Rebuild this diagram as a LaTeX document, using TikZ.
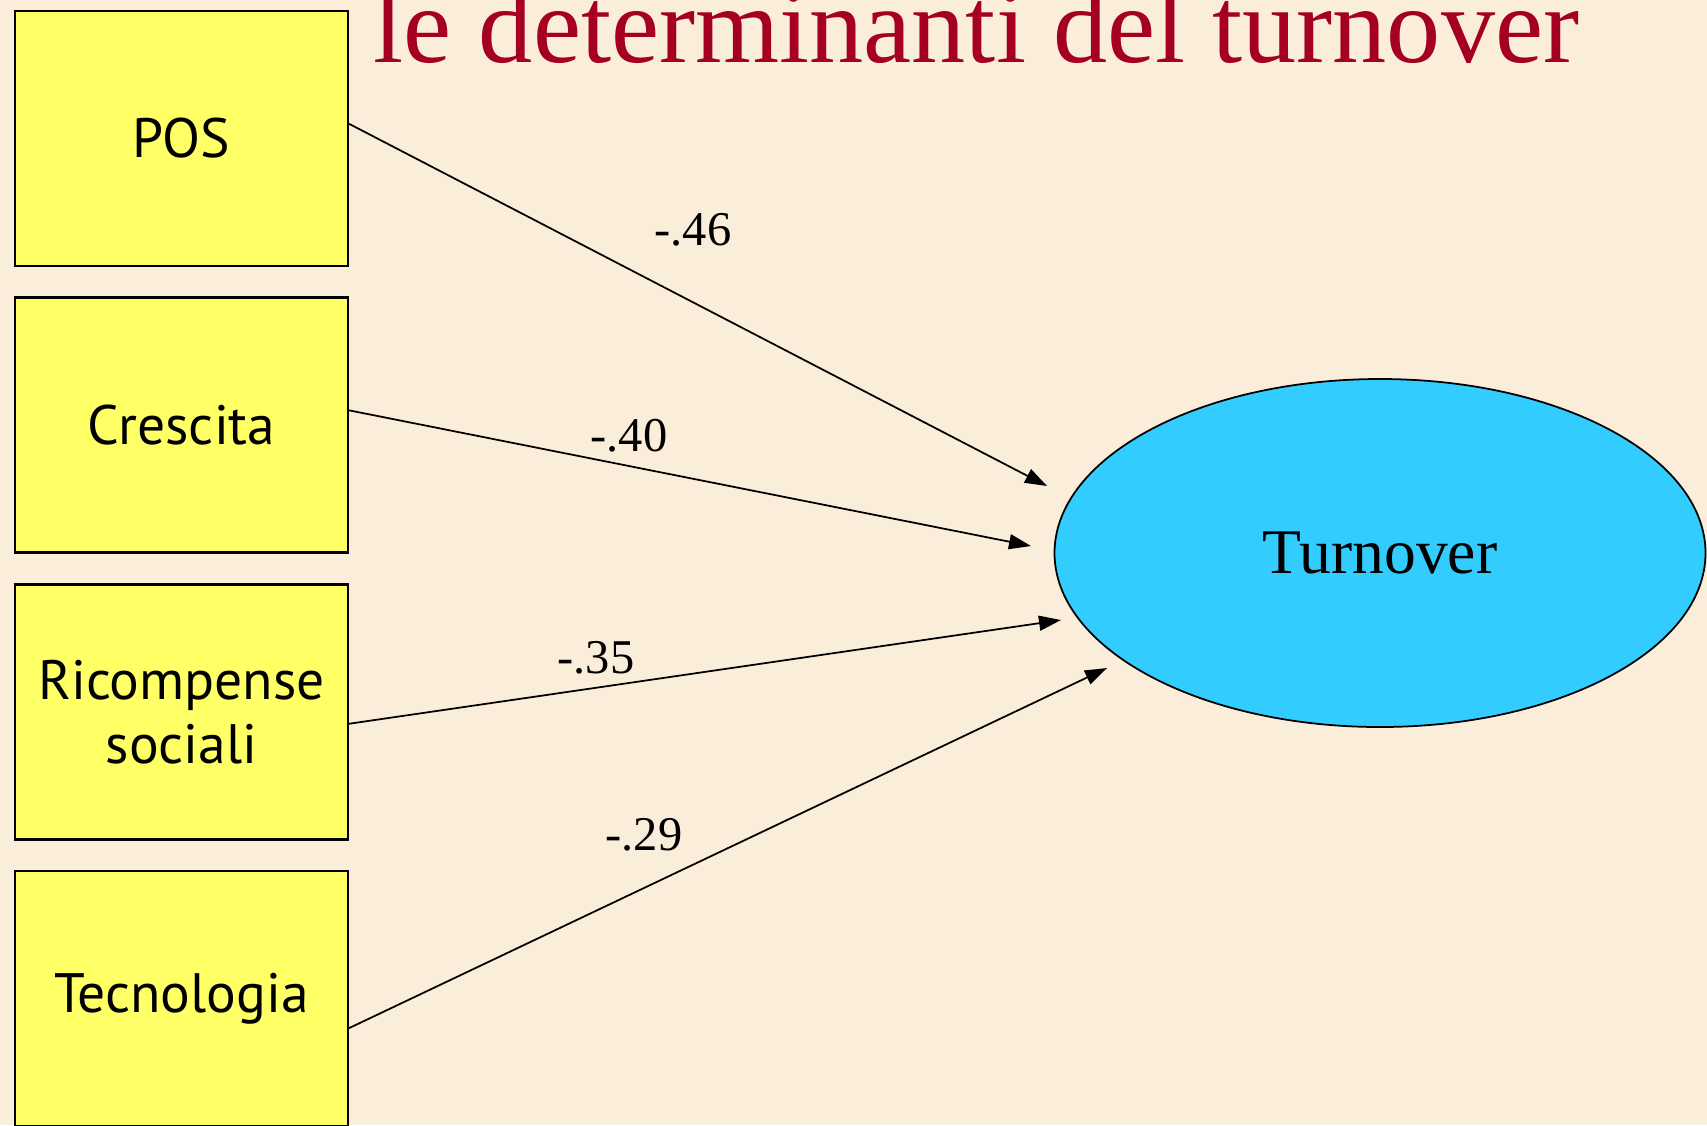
\documentclass[tikz,border=0pt]{standalone}
\usepackage{fontspec}
\setmainfont{Liberation Serif}
\newfontfamily\boxfont{PT Sans}
\usetikzlibrary{shapes.geometric, arrows.meta}
\definecolor{paper}{HTML}{FAEEDA}
\definecolor{boxyellow}{HTML}{FFFF66}
\definecolor{turnblue}{HTML}{33CCFF}
\definecolor{titlered}{HTML}{A50021}

\begin{document}
\begin{tikzpicture}
    % Define styles
    \tikzset{
        factor/.style={draw, line width=0.65pt, fill=boxyellow, minimum width=3.33cm, minimum height=2.55cm, text width=2.9cm, align=center, font=\boxfont\fontsize{15.8}{18.2}\selectfont},
        outcome/.style={draw, ellipse, line width=0.5pt, fill=turnblue, minimum width=6.51cm, minimum height=3.48cm, inner sep=0pt, font=\fontsize{18.1}{21}\selectfont},
        effect/.style={-{Triangle[length=0.22cm, width=0.15cm]}, line width=0.5pt},
        weight/.style={inner sep=0pt, font=\fontsize{13.8}{16}\selectfont}
    }

    % Background
    \fill[paper] (0,0) rectangle (17.07,-11.25);
    \useasboundingbox (0,0) rectangle (17.07,-11.25);

    % Title
    \node[anchor=base west, inner sep=0pt, text=titlered, font=\fontsize{30.8}{36}\selectfont] (title) at (3.73,-0.62) {le determinanti del turnover};

    % Predictor nodes
    \node[factor] (pos) at (1.815,-1.385) {POS};
    \node[factor] (cres) at (1.815,-4.25) {Crescita};
    \node[factor] (ric) at (1.815,-7.12) {Ricompense\\sociali};
    \node[factor] (tec) at (1.815,-9.985) {Tecnologia};

    % Outcome node
    \node[outcome] (turn) at (13.80,-5.53) {Turnover};

    % Arrow ends
    \coordinate (in1) at (10.47,-4.86);
    \coordinate (in2) at (10.31,-5.46);
    \coordinate (in3) at (10.61,-6.20);
    \coordinate (in4) at (11.07,-6.68);

    % Arrows
    \draw[effect] (pos.5) -- (in1);
    \draw[effect] (cres.5) -- (in2);
    \draw[effect] (ric.-4) -- (in3);
    \draw[effect] (tec.-10.5) -- (in4);

    % Weights
    \node[weight] (w1) at (6.93,-2.30) {-.46};
    \node[weight] (w2) at (6.29,-4.36) {-.40};
    \node[weight] (w3) at (5.96,-6.58) {-.35};
    \node[weight] (w4) at (6.44,-8.35) {-.29};

\end{tikzpicture}
\end{document}
